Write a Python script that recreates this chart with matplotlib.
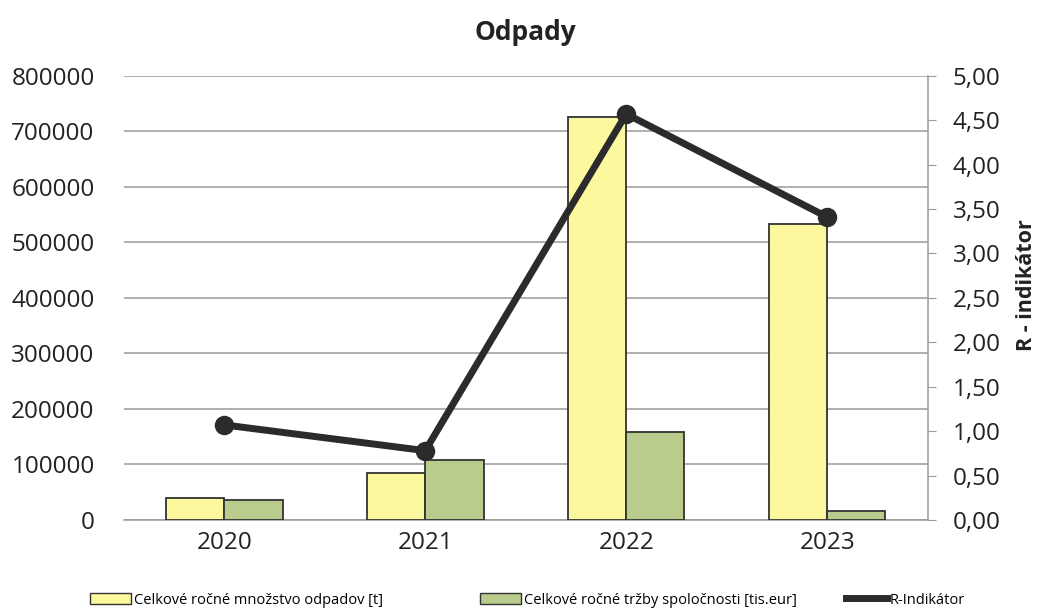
import numpy as np
import matplotlib.pyplot as plt
from matplotlib.patches import Patch
from matplotlib.lines import Line2D
from matplotlib.ticker import FuncFormatter

plt.rcParams['font.family'] = ['Open Sans', 'DejaVu Sans']

years = ['2020', '2021', '2022', '2023']
odpady = [40000, 85000, 725000, 533000]
trzby = [36000, 108000, 158000, 16000]
r_indikator = [1.07, 0.78, 4.57, 3.41]

yellow = '#FCF89E'
green = '#B9CC8C'
dark = '#333333'

fig = plt.figure(figsize=(10.4, 6.11), dpi=100)
ax1 = fig.add_axes([0.119, 0.149, 0.773, 0.727])
ax2 = ax1.twinx()

x = np.arange(len(years))
w = 0.29
ax1.bar(x - w/2, odpady, w, color=yellow, edgecolor=dark, linewidth=1.3, zorder=3)
ax1.bar(x + w/2, trzby, w, color=green, edgecolor=dark, linewidth=1.3, zorder=3)

ax1.set_xlim(-0.5, 3.5)
ax1.set_ylim(0, 800000)
ax1.set_yticks(range(0, 800001, 100000))
ax1.set_xticks(x)
ax1.set_xticklabels(years)
ax1.grid(axis='y', color='#9a9a9a', linewidth=1.1, zorder=0)
ax1.tick_params(axis='y', length=0, labelsize=17.5, pad=21, colors='#222222')
ax1.tick_params(axis='x', length=0, labelsize=17.5, pad=8, colors='#222222')
for s in ['left', 'top', 'right']:
    ax1.spines[s].set_visible(False)
ax1.spines['bottom'].set_color('#9a9a9a')
ax1.spines['bottom'].set_linewidth(1.1)

ax2.plot(x, r_indikator, color='#2b2b2b', linewidth=5, marker='o', markersize=13, zorder=5)
ax2.set_ylim(0, 5)
ax2.set_yticks(np.arange(0, 5.01, 0.5))
ax2.yaxis.set_major_formatter(FuncFormatter(lambda v, p: f'{v:.2f}'.replace('.', ',')))
ax2.tick_params(axis='y', direction='out', length=6, labelsize=17.5, pad=12, labelcolor='#222222',
                color='#9a9a9a')
for s in ['left', 'top', 'bottom']:
    ax2.spines[s].set_visible(False)
ax2.spines['right'].set_color('#9a9a9a')
ax2.spines['right'].set_linewidth(1.1)
fig.text(1026 / 1040, 1 - 285 / 611, 'R - indikátor', rotation=90, ha='center', va='center',
         fontsize=15.5, fontweight='bold', color='#222222')

ax1.set_title('Odpady', fontsize=19, fontweight='bold', pad=26, color='#222222')

handles = [
    Patch(facecolor=yellow, edgecolor=dark, linewidth=1),
    Patch(facecolor=green, edgecolor=dark, linewidth=1),
    Line2D([0], [0], color='#2b2b2b', linewidth=5),
]
labels = ['Celkové ročné množstvo odpadov [t]',
          'Celkové ročné tržby spoločnosti [tis.eur]',
          'R-Indikátor']
xpos = [90, 480, 846]
for h, lab, xp in zip(handles, labels, xpos):
    fig.legend([h], [lab], loc='center left', bbox_to_anchor=(xp / 1040, 11 / 611),
               frameon=False, fontsize=10.5, handlelength=2.8, handleheight=0.7,
               handletextpad=0.2, borderpad=0, borderaxespad=0)

fig.savefig('out.png', dpi=100)
